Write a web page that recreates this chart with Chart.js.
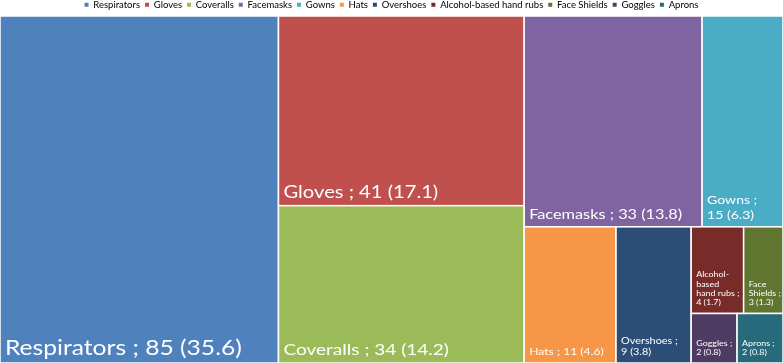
<!DOCTYPE html>
<html>
<head>
<meta charset="utf-8">
<script src="https://cdn.jsdelivr.net/npm/chart.js@4"></script>
<style>
    html, body { margin: 0; padding: 0; background: #fff; }
    #wrap { width: 783px; height: 363px; }
</style>
</head>
<body>
<div id="wrap"><canvas id="ppeTreemap"></canvas></div>
<script>
// data
const categories = ["Respirators", "Gloves", "Coveralls", "Facemasks", "Gowns", "Hats", "Overshoes",
    "Alcohol-based hand rubs", "Face Shields", "Goggles", "Aprons"];
const counts = [85, 41, 34, 33, 15, 11, 9, 4, 3, 2, 2];
const shares = ["35.6", "17.1", "14.2", "13.8", "6.3", "4.6", "3.8", "1.7", "1.3", "0.8", "0.8"];

const colors = ["#4F81BD", "#C0504D", "#9BBB59", "#8064A2", "#4BACC6", "#F79646", "#2C4D75",
    "#772C2A", "#5F7530", "#4D3B62", "#276A7C"];

const LAYOUT_STRETCH = 1.25; // the original picture was widened, so squarify in the narrower space
const TEXT_STRETCH = 1.19;
const FONT = "Lato";

function worst(row, side) {
    const s = row.reduce((a, b) => a + b, 0);
    const rmax = Math.max(...row), rmin = Math.min(...row);
    return Math.max(side * side * rmax / (s * s), (s * s) / (side * side * rmin));
}

// plain squarified layout, values must be sorted high to low
function squarify(values, W, H) {
    const total = values.reduce((a, b) => a + b, 0);
    const areas = values.map(v => v / total * W * H);
    const rects = [];
    let x = 0, y = 0, w = W, h = H, i = 0;
    while (i < areas.length) {
        const side = Math.min(w, h);
        const row = [areas[i]];
        let j = i + 1;
        while (j < areas.length && worst(row.concat(areas[j]), side) <= worst(row, side)) {
            row.push(areas[j]);
            j++;
        }
        const s = row.reduce((a, b) => a + b, 0);
        if (w >= h) {
            const cw = s / h;
            let cy = y;
            row.forEach(a => { rects.push({ x: x, y: cy, w: cw, h: a / cw }); cy += a / cw; });
            x += cw; w -= cw;
        } else {
            const rh = s / w;
            let cx = x;
            row.forEach(a => { rects.push({ x: cx, y: y, w: a / rh, h: rh }); cx += a / rh; });
            y += rh; h -= rh;
        }
        i = j;
    }
    return rects;
}

function textWidth(ctx, text, size) {
    ctx.font = size + "px " + FONT;
    return ctx.measureText(text).width * TEXT_STRETCH;
}

// word wrap; a word too long for the cell is broken after its hyphen
function wrapName(ctx, name, size, avail) {
    const lines = [];
    let line = "";
    name.split(" ").forEach(word => {
        const cand = line ? line + " " + word : word;
        if (textWidth(ctx, cand, size) <= avail) {
            line = cand;
            return;
        }
        if (line) lines.push(line);
        if (textWidth(ctx, word, size) > avail && word.includes("-")) {
            const segs = word.split(/(?<=-)/);
            segs.forEach(seg => lines.push(seg));
            line = "";
        } else {
            line = word;
        }
    });
    if (line) lines.push(line);
    return lines;
}

function drawLabel(ctx, i, left, top, w, h) {
    const pad = 5;
    const name = categories[i] + " ;";
    const value = counts[i] + " (" + shares[i] + ")";
    const full = name + " " + value;
    let size = Math.max(7.5, 5.13 * Math.log(counts[i]) - 2.1);
    const fitW = w * 0.86;
    const fw = textWidth(ctx, full, size);
    let lines;
    if (fw <= fitW) {
        lines = [full];
    } else if (fw * 0.85 <= fitW) {
        size = size * fitW / fw;
        lines = [full];
    } else {
        lines = wrapName(ctx, name, size, w - pad).concat([value]);
    }
    const lineH = size * 1.25;
    let base = top + h - 8 - (lines.length - 1) * lineH;
    ctx.save();
    ctx.fillStyle = "#ffffff";
    ctx.textAlign = "left";
    ctx.textBaseline = "alphabetic";
    ctx.font = size + "px " + FONT;
    lines.forEach(l => {
        ctx.save();
        ctx.translate(left + pad, base);
        ctx.scale(TEXT_STRETCH, 1);
        ctx.fillText(l, 0, 0);
        ctx.restore();
        base += lineH;
    });
    ctx.restore();
}

const treemapPlugin = {
    id: "treemapCells",
    afterDatasetsDraw(chart) {
        const { ctx, chartArea, scales } = chart;
        const W = chartArea.width * LAYOUT_STRETCH;
        const H = chartArea.height;
        const cells = squarify(counts, W, H);
        cells.forEach((c, i) => {
            const left = scales.x.getPixelForValue(c.x / W);
            const right = scales.x.getPixelForValue((c.x + c.w) / W);
            const top = scales.y.getPixelForValue(c.y / H);
            const bottom = scales.y.getPixelForValue((c.y + c.h) / H);
            ctx.save();
            ctx.fillStyle = colors[i];
            ctx.fillRect(left, top, right - left, bottom - top);
            ctx.strokeStyle = "#ffffff";
            ctx.lineWidth = 1.5;
            ctx.strokeRect(left, top, right - left, bottom - top);
            ctx.restore();
            drawLabel(ctx, i, left, top, right - left, bottom - top);
        });
    }
};

const canvas = document.getElementById("ppeTreemap");
const chart = new Chart(canvas, {
    type: "scatter",
    data: {
        datasets: [{ label: "PPE", data: [] }]
    },
    options: {
        responsive: true,
        maintainAspectRatio: false,
        animation: false,
        layout: { padding: { top: -5, left: 0, right: 0, bottom: 0 } },
        scales: {
            x: { display: false, min: 0, max: 1 },
            y: { display: false, min: 0, max: 1, reverse: true }
        },
        plugins: {
            tooltip: { enabled: false },
            legend: {
                position: "top",
                maxHeight: 21,
                labels: {
                    boxWidth: 4,
                    boxHeight: 4,
                    padding: 5,
                    color: "#404040",
                    font: { family: FONT, size: 9.5 },
                    generateLabels: () => categories.map((c, i) => ({
                        text: c,
                        fillStyle: colors[i],
                        strokeStyle: colors[i],
                        lineWidth: 0,
                        hidden: false,
                        datasetIndex: 0
                    }))
                }
            }
        }
    },
    plugins: [treemapPlugin]
});
</script>
</body>
</html>
